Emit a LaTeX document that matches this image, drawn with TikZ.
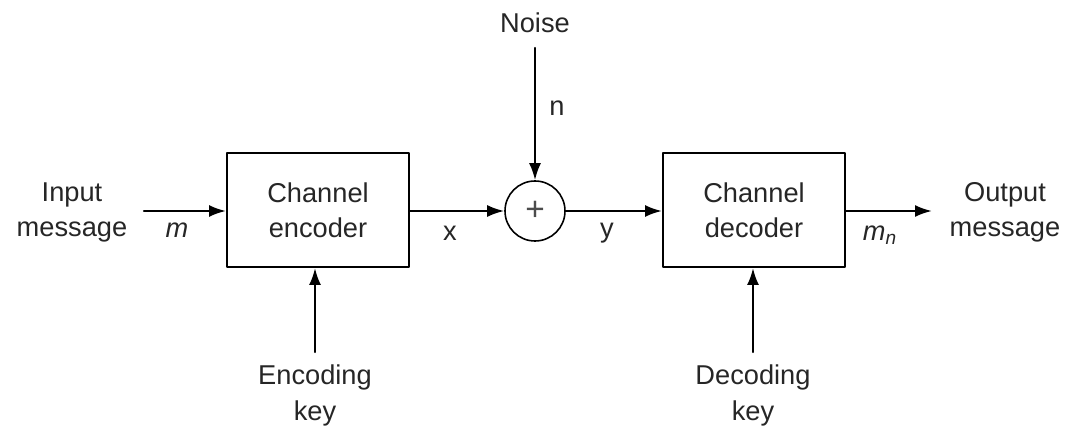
\documentclass[tikz,border=0pt]{standalone}
\usepackage{fontspec}
\setmainfont{Liberation Sans}
\usetikzlibrary{arrows.meta}
\tikzset{
  block/.style={draw,line width=1.1pt,minimum width=3.64cm,minimum height=2.28cm,align=center},
  sumnode/.style={draw,circle,line width=0.9pt,minimum size=1.2cm,inner sep=0pt},
  sig/.style={line width=1.3pt,-{Latex[length=3.4mm,width=2.4mm]}},
  lbl/.style={align=center,inner sep=1pt}
}
\begin{document}
\begin{tikzpicture}[x=0.2cm,y=0.2cm,line cap=round,line join=round,
  font=\fontsize{15.5}{20}\selectfont,text=black!85]
  \useasboundingbox (0,0) rectangle (106.9,43.2);
  % blocks
  \node[block] (enc) at (31.8,22.2) {Channel\\encoder};
  \node[block] (dec) at (75.4,22.2) {Channel\\decoder};
  \node[sumnode] (sum) at (53.5,22.1) {\fontsize{19}{19}\selectfont\color{black!70}+};
  % texts
  \node[lbl] (in) at (7.2,21.95) {Input\\message};
  \node[lbl] (out) at (100.5,21.95) {Output\\message};
  \node[lbl] (noise) at (53.5,40.9) {Noise};
  \node[lbl] (enckey) at (31.5,3.65) {Encoding\\key};
  \node[lbl] (deckey) at (75.3,3.65) {Decoding\\key};
  \coordinate (inend) at (14.4,22.1);
  \coordinate (outend) at (93.2,22.1);
  \coordinate (noisend) at (53.5,38.4);
  \coordinate (enckeyend) at (31.5,8.0);
  \coordinate (deckeyend) at (75.3,8.0);
  % signals
  \draw[sig] (inend) -- (inend -| enc.west);
  \draw[sig] (enc.east |- sum) -- (sum.west);
  \draw[sig] (sum.east) -- (sum -| dec.west);
  \draw[sig] (dec.east |- outend) -- (outend);
  \draw[sig] (noisend) -- (sum.north);
  \draw[sig] (enckeyend) -- (enckeyend |- enc.south);
  \draw[sig] (deckeyend) -- (deckeyend |- dec.south);
  % signal names
  \node[lbl] (m) at (17.7,20.2) {\textit{m}};
  \node[lbl] (x) at (45.0,19.9) {x};
  \node[lbl] (y) at (60.7,19.9) {y};
  \node[lbl] (n) at (55.7,32.4) {n};
  \node[lbl] (mn) at (88.0,19.7) {\textit{m\textsubscript{n}}};
\end{tikzpicture}
\end{document}
